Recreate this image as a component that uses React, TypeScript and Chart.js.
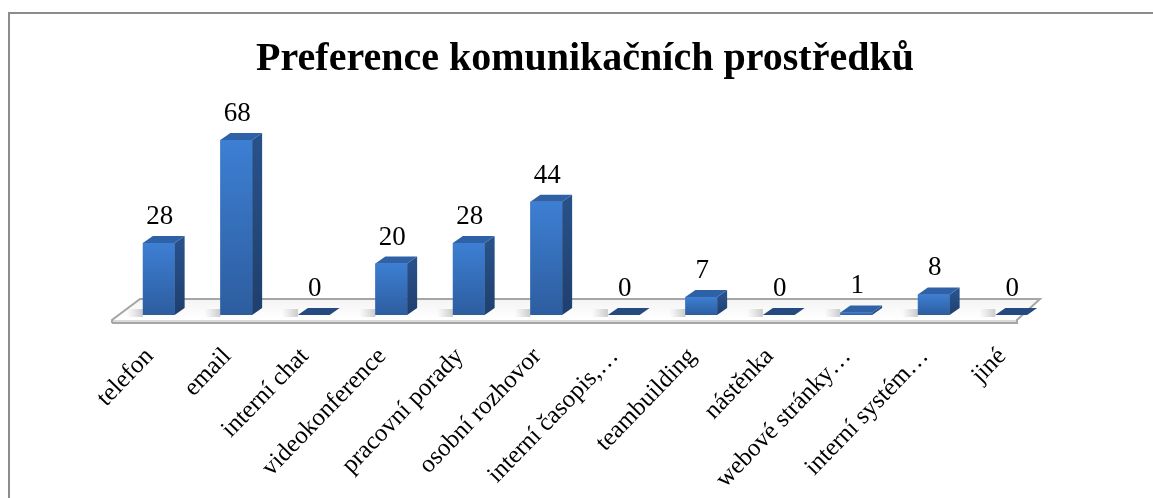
import React, { useEffect, useRef } from "react";
import { Chart, registerables } from "chart.js";

Chart.register(...registerables);

const TITLE = "Preference komunikačních prostředků";
const categories = [
  "telefon",
  "email",
  "interní chat",
  "videokonference",
  "pracovní porady",
  "osobní rozhovor",
  "interní časopis,…",
  "teambuilding",
  "nástěnka",
  "webové stránky…",
  "interní systém…",
  "jiné",
];
const values = [28, 68, 0, 20, 28, 44, 0, 7, 0, 1, 8, 0];
const yMin = 0;
const yMax = 80;

const SERIF = "'Liberation Serif', 'Times New Roman', serif";
const DX = 10;
const DY = -7;

const bar3d = {
  id: "bar3d",
  beforeDatasetsDraw(chart: any) {
    const { ctx, chartArea } = chart;
    const base = chart.scales.y.getPixelForValue(0);
    const fl = chartArea.left - 8;
    const fr = chartArea.right - 33;
    const bl = chartArea.left + 20;
    const br = chartArea.right - 10;
    const fy = base + 5;
    const by = base - 16;
    ctx.save();
    ctx.fillStyle = "#d9d9d9";
    ctx.beginPath();
    ctx.moveTo(fl, fy);
    ctx.lineTo(fr, fy);
    ctx.lineTo(fr, fy + 3);
    ctx.lineTo(fl, fy + 3);
    ctx.closePath();
    ctx.fill();
    const g = ctx.createLinearGradient(0, by, 0, fy);
    g.addColorStop(0, "#f4f4f4");
    g.addColorStop(1, "#ffffff");
    ctx.fillStyle = g;
    ctx.beginPath();
    ctx.moveTo(fl, fy);
    ctx.lineTo(bl, by);
    ctx.lineTo(br, by);
    ctx.lineTo(fr, fy);
    ctx.closePath();
    ctx.fill();
    ctx.strokeStyle = "#a6a6a6";
    ctx.lineWidth = 2;
    ctx.beginPath();
    ctx.moveTo(fl, fy + 3);
    ctx.lineTo(fl, fy);
    ctx.lineTo(bl, by);
    ctx.lineTo(br, by);
    ctx.lineTo(fr, fy);
    ctx.lineTo(fr, fy + 3);
    ctx.lineTo(fl, fy + 3);
    ctx.stroke();
    const meta = chart.getDatasetMeta(0);
    meta.data.forEach((bar: any) => {
      const { x, width } = bar.getProps(["x", "width"], true);
      const sg = ctx.createLinearGradient(x - width, 0, x - width / 2, 0);
      sg.addColorStop(0, "rgba(200,200,200,0)");
      sg.addColorStop(1, "rgba(190,190,190,0.8)");
      ctx.fillStyle = sg;
      ctx.fillRect(x - width * 1.1, base - 6, width * 0.6, 8);
    });
    ctx.restore();
  },
  afterDatasetsDraw(chart: any) {
    const { ctx } = chart;
    const meta = chart.getDatasetMeta(0);
    const data = chart.data.datasets[0].data;
    ctx.save();
    meta.data.forEach((bar: any, i: number) => {
      const { x, y, base, width } = bar.getProps(["x", "y", "base", "width"], true);
      const l = x - width / 2;
      const r = x + width / 2;
      if (base - y > 0.5) {
        const fg = ctx.createLinearGradient(0, y, 0, base);
        fg.addColorStop(0, "#3d7fd3");
        fg.addColorStop(1, "#2d5d9f");
        ctx.fillStyle = fg;
        ctx.fillRect(l, y, width, base - y);
        const sg = ctx.createLinearGradient(0, y, 0, base);
        sg.addColorStop(0, "#28518a");
        sg.addColorStop(1, "#1f3f6d");
        ctx.fillStyle = sg;
        ctx.beginPath();
        ctx.moveTo(r, y);
        ctx.lineTo(r + DX, y + DY);
        ctx.lineTo(r + DX, base + DY);
        ctx.lineTo(r, base);
        ctx.closePath();
        ctx.fill();
      }
      ctx.fillStyle = base - y > 0.5 ? "#2f61a6" : "#254a80";
      ctx.beginPath();
      ctx.moveTo(l, y);
      ctx.lineTo(l + DX, y + DY);
      ctx.lineTo(r + DX, y + DY);
      ctx.lineTo(r, y);
      ctx.closePath();
      ctx.fill();
      ctx.fillStyle = "#000";
      ctx.font = `27px ${SERIF}`;
      ctx.textAlign = "center";
      ctx.textBaseline = "alphabetic";
      ctx.fillText(String(data[i]), x + DX / 2 - 4, y + DY - 12);
    });
    ctx.restore();
  },
};

export default function App() {
  const ref = useRef<HTMLCanvasElement | null>(null);
  useEffect(() => {
    document.body.style.margin = "0";
    document.body.style.overflow = "hidden";
    if (!ref.current) return;
    const chart = new Chart(ref.current, {
      type: "bar",
      data: {
        labels: categories,
        datasets: [
          {
            data: values,
            backgroundColor: "#3570bd",
            borderWidth: 0,
            barPercentage: 0.41,
            categoryPercentage: 1,
          },
        ],
      },
      options: {
        animation: false,
        responsive: false,
        layout: { padding: { left: 110, right: 118, top: 0, bottom: 0 } },
        plugins: {
          legend: { display: false },
          tooltip: { enabled: false },
          title: {
            display: true,
            text: TITLE,
            color: "#000",
            font: { family: SERIF, size: 40, weight: "bold" },
            padding: { top: 22, bottom: 25 },
          },
        },
        scales: {
          x: {
            grid: { display: false },
            border: { display: false },
            ticks: {
              color: "#000",
              font: { family: SERIF, size: 25 },
              minRotation: 46,
              maxRotation: 46,
              autoSkip: false,
              padding: 19,
              labelOffset: -9,
            },
            afterFit: (axis: any) => {
              axis.height = 183;
            },
          },
          y: {
            display: false,
            min: yMin,
            max: yMax,
          },
        },
      },
      plugins: [bar3d],
    });
    return () => chart.destroy();
  }, []);
  return (
    <div
      style={{
        position: "absolute",
        left: 8,
        top: 12,
        width: 1160,
        height: 486,
        borderTop: "2px solid #8c8c8c",
        borderLeft: "2px solid #8c8c8c",
        boxSizing: "border-box",
        background: "#fff",
      }}
    >
      <canvas ref={ref} width={1158} height={484} />
    </div>
  );
}
